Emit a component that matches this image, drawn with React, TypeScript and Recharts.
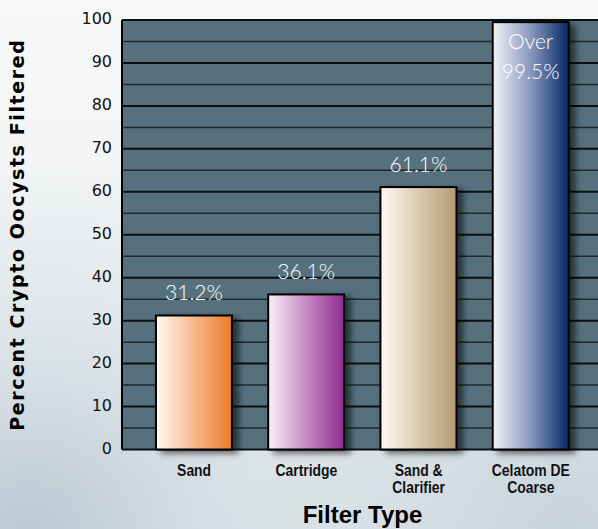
import React from "react";
import { BarChart, Bar, XAxis, YAxis, CartesianGrid, LabelList, Label } from "recharts";

const categories = ["Sand", "Cartridge", "Sand &\nClarifier", "Celatom DE\nCoarse"];
const values = [31.2, 36.1, 61.1, 99.5];
const valueLabels = ["31.2%", "36.1%", "61.1%", "Over\n99.5%"];
const yTicks = [0, 10, 20, 30, 40, 50, 60, 70, 80, 90, 100];
const minorTicks = [5, 15, 25, 35, 45, 55, 65, 75, 85, 95];
const gradLeft = ["#fffaf3", "#f8f0f9", "#fefbf5", "#f3f3f8"];
const gradMid = ["#f6b98c", "#c78ac4", "#dccab0", "#8797bd"];
const gradRight = ["#ec7a2c", "#8f2d8d", "#b39a74", "#082a66"];

const data = categories.map((name, i) => ({ name, value: values[i], label: valueLabels[i] }));
const allTicks = [...yTicks, ...minorTicks].sort((a, b) => a - b);

const BarShape = (props: any) => {
  const { x, y, width, height, index } = props;
  return (
    <rect
      x={x}
      y={y}
      width={width}
      height={height}
      fill={`url(#barGrad${index})`}
      stroke="#000"
      strokeWidth={2}
      filter="url(#barShadow)"
    />
  );
};

const ValueLabel = (props: any) => {
  const { x, y, width, value } = props;
  const cx = x + width / 2;
  const lines = String(value).split("\n");
  const style = { fontFamily: "Lato, 'DejaVu Sans Condensed', sans-serif", fontSize: 21, fontWeight: 300 };
  if (lines.length > 1) {
    return (
      <text x={cx} y={y} fill="#fff" textAnchor="middle" style={style}>
        {lines.map((l, i) => (
          <tspan key={i} x={cx} dy={i === 0 ? 27 : 30}>
            {l}
          </tspan>
        ))}
      </text>
    );
  }
  return (
    <text x={cx} y={y - 15} fill="#fff" textAnchor="middle" style={style}>
      {value}
    </text>
  );
};

const XTick = (props: any) => {
  const { x, y, payload } = props;
  const lines = String(payload.value).split("\n");
  return (
    <text
      x={x}
      y={y}
      textAnchor="middle"
      fill="#111"
      transform={`translate(${x},0) scale(0.87,1) translate(${-x},0)`}
      style={{ fontFamily: "'Liberation Sans', Arial, sans-serif", fontSize: 16, fontWeight: 700 }}
    >
      {lines.map((l, i) => (
        <tspan key={i} x={x} dy={i === 0 ? 26.5 : 17.5}>
          {l}
        </tspan>
      ))}
    </text>
  );
};

const YTick = (props: any) => {
  const { x, y, payload } = props;
  if (!yTicks.includes(payload.value)) return <g />;
  return (
    <text
      x={x}
      y={y + 4}
      textAnchor="end"
      fill="#111"
      style={{ fontFamily: "'DejaVu Sans', sans-serif", fontSize: 16 }}
    >
      {payload.value}
    </text>
  );
};

const GridLine = (props: any) => {
  const { x1, x2, y1, y2, index } = props;
  const major = index % 2 === 0;
  return (
    <line
      x1={x1}
      x2={x2}
      y1={y1}
      y2={y2}
      stroke={major ? "#0b1012" : "#1e282d"}
      strokeWidth={major ? 2 : 1.5}
    />
  );
};

export default function App() {
  return (
    <div
      style={{
        position: "fixed",
        left: 0,
        top: 0,
        width: 598,
        height: 529,
        overflow: "hidden",
        background:
          "radial-gradient(ellipse at 5% 100%, #bccad4 0%, rgba(205,216,223,0.6) 22%, rgba(230,235,238,0) 50%), radial-gradient(ellipse at 95% 100%, #c8d4dc 0%, rgba(220,228,233,0) 40%), linear-gradient(180deg, #f7f8f8 0%, #f0f2f3 60%, #e3e8eb 100%)",
      }}
    >
      <BarChart
        width={620}
        height={529}
        data={data}
        margin={{ top: 20, right: 17, bottom: 0, left: 0 }}
        barCategoryGap="16%"
      >
        <defs>
          {categories.map((_, i) => (
            <linearGradient key={i} id={`barGrad${i}`} x1="0" y1="0" x2="1" y2="0">
              <stop offset="0%" stopColor={gradLeft[i]} />
              <stop offset="50%" stopColor={gradMid[i]} />
              <stop offset="100%" stopColor={gradRight[i]} />
            </linearGradient>
          ))}
          <filter id="barShadow" x="-20%" y="-20%" width="150%" height="140%">
            <feDropShadow dx="6" dy="3" stdDeviation="3" floodColor="#000" floodOpacity="0.55" />
          </filter>
          <filter id="axisShadow" x="-5%" y="-200%" width="110%" height="600%">
            <feDropShadow dx="2" dy="4" stdDeviation="3" floodColor="#000" floodOpacity="0.5" />
          </filter>
        </defs>
        <CartesianGrid
          vertical={false}
          fill="#56717d"
          fillOpacity={1}
          horizontal={(p: any) => <GridLine {...p} />}
        />
        <XAxis
          dataKey="name"
          interval={0}
          padding={{ left: 16, right: 16 }}
          height={79.5}
          tickLine={false}
          tickSize={0}
          tickMargin={0}
          tick={<XTick />}
          axisLine={{ stroke: "#000", strokeWidth: 4, filter: "url(#axisShadow)" }}
        >
          <Label
            content={(p: any) => {
              const vb = p.viewBox;
              return (
                <text
                  x={vb.x + vb.width / 2}
                  y={vb.y + 73.5}
                  textAnchor="middle"
                  fill="#000"
                  style={{ fontFamily: "'Liberation Sans', Arial, sans-serif", fontSize: 24, fontWeight: 700 }}
                >
                  Filter Type
                </text>
              );
            }}
          />
        </XAxis>
        <YAxis
          domain={[0, 100]}
          ticks={allTicks}
          interval={0}
          width={122}
          tickLine={false}
          tickSize={0}
          tickMargin={10}
          tick={<YTick />}
          axisLine={{ stroke: "#000", strokeWidth: 2 }}
        >
          <Label
            content={(p: any) => {
              const vb = p.viewBox;
              const cy = vb.y + vb.height / 2;
              return (
                <text
                  x={17}
                  y={cy}
                  transform={`rotate(-90, 17, ${cy})`}
                  textAnchor="middle"
                  dominantBaseline="central"
                  fill="#000"
                  style={{ fontFamily: "'DejaVu Sans', sans-serif", fontSize: 19, fontWeight: 700, letterSpacing: 1.6 }}
                >
                  Percent Crypto Oocysts Filtered
                </text>
              );
            }}
          />
        </YAxis>
        <Bar dataKey="value" isAnimationActive={false} shape={<BarShape />}>
          <LabelList dataKey="label" content={<ValueLabel />} />
        </Bar>
      </BarChart>
    </div>
  );
}
